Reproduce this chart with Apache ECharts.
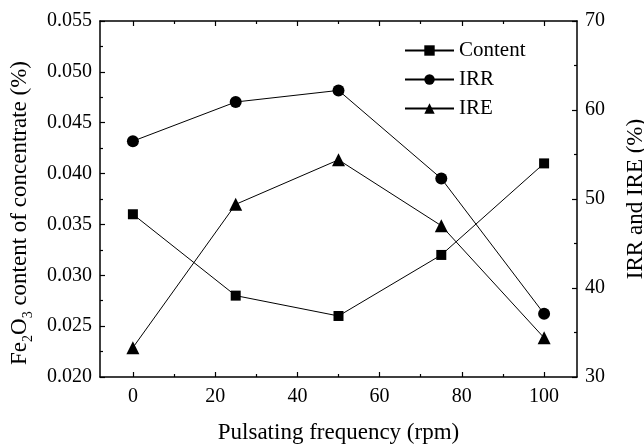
<!DOCTYPE html>
<html>
<head>
<meta charset="utf-8">
<script src="https://cdn.jsdelivr.net/npm/echarts@6/dist/echarts.min.js"></script>
<style>
html,body{margin:0;padding:0;background:#fff;}
#chart{width:644px;height:444px;}
</style>
</head>
<body>
<div id="chart"></div>
<script>
var frequency = [0, 25, 50, 75, 100];
var content = [0.036, 0.028, 0.026, 0.032, 0.041];
var irr = [56.5, 60.9, 62.2, 52.3, 37.1];
var ire = [33.3, 49.4, 54.4, 47.0, 34.4];
var xMajorTicks = [0, 20, 40, 60, 80, 100];
var xMinorTicks = [10, 30, 50, 70, 90];

var FONT = 'Liberation Serif';
var chart = echarts.init(document.getElementById('chart'));

function pairs(vals) { return frequency.map(function (f, i) { return [f, vals[i]]; }); }

var axisLine = { show: true, onZero: false, lineStyle: { color: '#000', width: 1.5 } };
var noLine = { show: false, onZero: false };
var xBase = { type: 'value', min: -8, max: 108, gridIndex: 0, splitLine: { show: false } };

var option = {
  backgroundColor: '#fff',
  animation: false,
  grid: { left: 100, right: 67, top: 21, bottom: 67, containLabel: false, outerBoundsMode: 'none' },
  legend: {
    orient: 'vertical',
    left: 399,
    top: 35,
    itemWidth: 49,
    itemHeight: 13,
    itemGap: 8,
    data: ['Content', 'IRR', 'IRE'],
    textStyle: { fontFamily: FONT, fontSize: 21, color: '#000' }
  },
  xAxis: [
    Object.assign({}, xBase, {
      position: 'bottom',
      axisLine: axisLine,
      axisTick: { show: true, inside: true, length: 5, customValues: xMajorTicks, lineStyle: { color: '#000', width: 1.2 } },
      axisLabel: { show: true, customValues: xMajorTicks, margin: 10, fontFamily: FONT, fontSize: 20, color: '#000' },
      name: 'Pulsating frequency (rpm)',
      nameLocation: 'middle',
      nameGap: 44,
      nameTextStyle: { fontFamily: FONT, fontSize: 23, color: '#000' }
    }),
    Object.assign({}, xBase, {
      position: 'bottom',
      axisLine: noLine,
      axisTick: { show: true, inside: true, length: 3, customValues: xMinorTicks, lineStyle: { color: '#000', width: 1.2 } },
      axisLabel: { show: false }
    }),
    Object.assign({}, xBase, {
      position: 'top',
      axisLine: axisLine,
      axisTick: { show: true, inside: true, length: 5, customValues: xMajorTicks, lineStyle: { color: '#000', width: 1.2 } },
      axisLabel: { show: false }
    }),
    Object.assign({}, xBase, {
      position: 'top',
      axisLine: noLine,
      axisTick: { show: true, inside: true, length: 3, customValues: xMinorTicks, lineStyle: { color: '#000', width: 1.2 } },
      axisLabel: { show: false }
    })
  ],
  yAxis: [
    {
      type: 'value',
      position: 'left',
      min: 0.02, max: 0.055, interval: 0.005,
      axisLine: axisLine,
      axisTick: { show: true, inside: true, length: 5, lineStyle: { color: '#000', width: 1.2 } },
      minorTick: { show: true, splitNumber: 2, length: 3, lineStyle: { color: '#000', width: 1.2 } },
      splitLine: { show: false },
      axisLabel: {
        margin: 8, fontFamily: FONT, fontSize: 20, color: '#000',
        formatter: function (v) { return v.toFixed(3); }
      },
      name: '{n|Fe}{s|2}{n|O}{s|3}{n| content of concentrate (%)}',
      nameLocation: 'middle',
      nameRotate: 90,
      nameGap: 65,
      nameTextStyle: {
        fontFamily: FONT, fontSize: 23, color: '#000',
        padding: [0, 28, 0, 0],
        rich: {
          n: { fontFamily: FONT, fontSize: 23, color: '#000', lineHeight: 30, verticalAlign: 'middle' },
          s: { fontFamily: FONT, fontSize: 14, color: '#000', lineHeight: 14, verticalAlign: 'bottom' }
        }
      }
    },
    {
      type: 'value',
      position: 'right',
      min: 30, max: 70, interval: 10,
      axisLine: axisLine,
      axisTick: { show: true, inside: true, length: 5, lineStyle: { color: '#000', width: 1.2 } },
      minorTick: { show: true, splitNumber: 2, length: 3, lineStyle: { color: '#000', width: 1.2 } },
      splitLine: { show: false },
      axisLabel: { margin: 8, fontFamily: FONT, fontSize: 20, color: '#000' },
      name: 'IRR and IRE (%)',
      nameLocation: 'middle',
      nameRotate: 90,
      nameGap: 47,
      nameTextStyle: { fontFamily: FONT, fontSize: 23, color: '#000' }
    }
  ],
  series: [
    {
      name: 'Content', type: 'line', xAxisIndex: 0, yAxisIndex: 0,
      data: pairs(content),
      symbol: 'rect', symbolSize: 10,
      lineStyle: { color: '#000', width: 1 },
      itemStyle: { color: '#000' }
    },
    {
      name: 'IRR', type: 'line', xAxisIndex: 0, yAxisIndex: 1,
      data: pairs(irr),
      symbol: 'circle', symbolSize: 12,
      lineStyle: { color: '#000', width: 1 },
      itemStyle: { color: '#000' }
    },
    {
      name: 'IRE', type: 'line', xAxisIndex: 0, yAxisIndex: 1,
      data: pairs(ire),
      symbol: 'triangle', symbolSize: 13,
      lineStyle: { color: '#000', width: 1 },
      itemStyle: { color: '#000' }
    }
  ]
};
chart.setOption(option);
</script>
</body>
</html>
